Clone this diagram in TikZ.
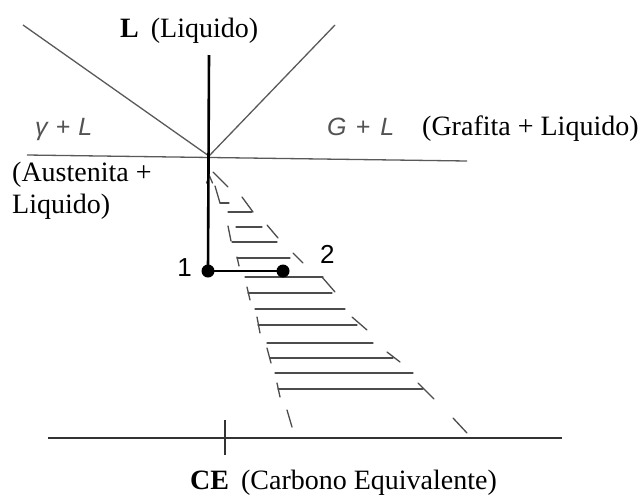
\documentclass[tikz,border=0pt]{standalone}
\usepackage{fontspec}
\setmainfont{Liberation Serif}
\setsansfont{Liberation Sans}
\begin{document}
\begin{tikzpicture}[x=1pt,y=-1pt,
  lbl/.style={font=\fontsize{28}{32}\selectfont, inner sep=0pt, anchor=base west},
  phase/.style={font=\sffamily\itshape\fontsize{25}{28}\selectfont, text=gray!65!black, inner sep=0pt, anchor=base west},
  num/.style={font=\sffamily\fontsize{26}{28}\selectfont, inner sep=0pt},
  thinline/.style={line width=1.3pt, draw=gray!70!black},
  thickline/.style={line width=2.6pt, draw=black},
  axisline/.style={line width=2pt, draw=black!80},
  hatch/.style={line width=1.3pt, draw=gray!60!black, line cap=round},
  dotnode/.style={circle, fill=black, inner sep=0pt, minimum size=13pt}]
\useasboundingbox (0,0) rectangle (642,496);

% key points
\coordinate (E) at (209,156);
\coordinate (LT) at (23,25);
\coordinate (RT) at (335,25);
\coordinate (HL) at (27,155);
\coordinate (HR) at (467,161);
\coordinate (VT) at (209,55);
\coordinate (AL) at (48,438);
\coordinate (AR) at (562,438);
\coordinate (TT) at (225,420);
\coordinate (TB) at (225,455);

% liquidus lines and eutectic line
\draw[thinline] (LT) -- (E);
\draw[thinline] (E) -- (RT);
\draw[thinline] (HL) -- (HR);

% hatched band
\foreach \y/\xa/\xb in {212/228/252, 227/236/262, 242/232/277, 258/237/290, 277/245/323, 293/248/332,
  309/255/345, 325/258/357, 343/267/373, 358/270/393, 373/275/413, 389/278/423}
  \draw[hatch] (\xa,\y) -- (\xb,\y);
% left edge dashes
\foreach \xa/\ya/\xb/\yb in {215/186/220/203, 228/226/231/241, 237/257/239/266, 247/287/250/300,
  257/317/260/333, 267/348/271/363, 277/383/280/397, 287/410/292/427}
  \draw[hatch] (\xa,\ya) -- (\xb,\yb);
% right edge dashes
\foreach \xa/\ya/\xb/\yb in {213/172/228/187, 242/197/253/212, 267/225/278/238, 293/253/303/263,
  322/277/335/292, 352/317/367/330, 387/352/400/362, 418/383/434/399, 453/418/467/433}
  \draw[hatch] (\xa,\ya) -- (\xb,\yb);
% small bits near the top
\draw[hatch] (220,203) -- (229,203);
\draw[hatch] (206.5,183) -- (209.5,176) -- (212.5,183);

% cooling path
\node[dotnode] (P1) at (208,271) {};
\node[dotnode] (P2) at (283,271) {};
\draw[thickline] (VT) -- (P1.center);
\draw[thickline] (P1.center) -- (P2.center);

% axis
\draw[axisline] (AL) -- (AR);
\draw[axisline] (TT) -- (TB);

% labels
\node[lbl] (tL) at (120,37) {\textbf{L}\hspace{12pt}(Liquido)};
\node[phase] (gl) at (35,135) {γ\hspace{8pt}+\hspace{8pt}L};
\node[phase] (GL) at (327,135) {G\hspace{9pt}+\hspace{10pt}L};
\node[lbl] (gLt) at (422,135) {(Grafita + Liquido)};
\node[lbl] (aus1) at (12,181) {(Austenita +};
\node[lbl] (aus2) at (12,213) {Liquido)};
\node[num, anchor=base east] (n1) at (192,276) {1};
\node[num, anchor=base west] (n2) at (320,263) {2};
\node[lbl] (ce) at (190,489) {\textbf{CE}\hspace{12pt}(Carbono Equivalente)};
\end{tikzpicture}
\end{document}
